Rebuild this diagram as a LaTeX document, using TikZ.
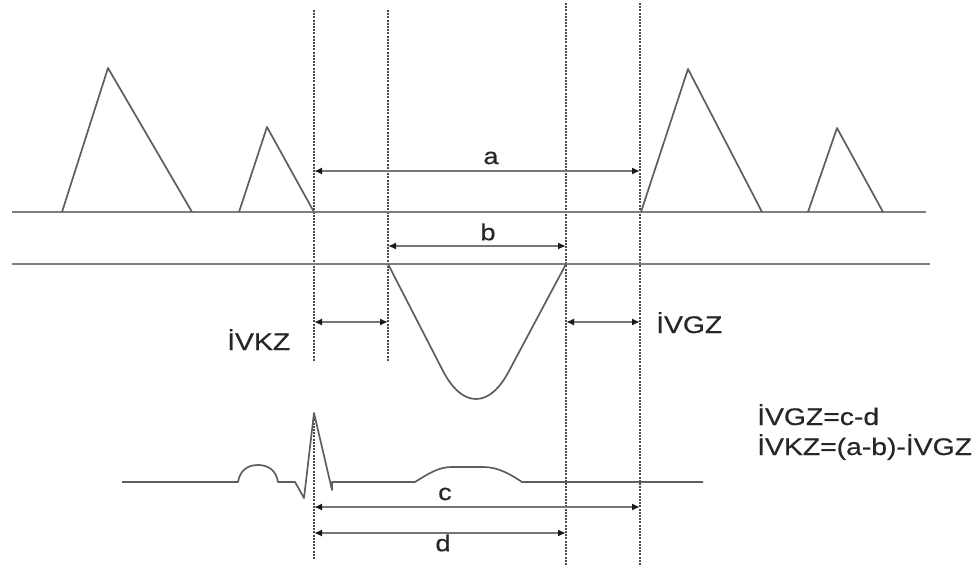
\documentclass[tikz,border=0pt]{standalone}
\usepackage{fontspec}
\setmainfont[FakeStretch=1.18,FakeBold=0.5]{Liberation Sans}
\usetikzlibrary{arrows.meta}
\definecolor{ln}{HTML}{5E5E5E}
\definecolor{tx}{HTML}{262626}
\tikzset{
  wave/.style={draw=ln,line width=1.7pt,line join=round},
  base/.style={draw=ln!80,line width=2pt},
  guide/.style={draw=black!70,line width=1.5pt,dash pattern=on 2pt off 1.2pt},
  dim/.style={draw=ln!85,line width=1.7pt,{Latex[length=8pt,width=7pt,black!90]}-{Latex[length=8pt,width=7pt,black!90]}},
  lab/.style={text=tx,inner sep=0pt,font=\fontsize{23}{26}\selectfont},
  big/.style={text=tx,inner sep=0pt,font=\fontsize{24}{28}\selectfont}
}
\begin{document}
\begin{tikzpicture}[x=1pt,y=-1pt]
\useasboundingbox (0,0) rectangle (977,567);
% guide end points
\coordinate (g1t) at (314,10); \coordinate (g1b) at (314,362);
\coordinate (g1c) at (314,413); \coordinate (g1e) at (314,559);
\coordinate (g2t) at (388,10); \coordinate (g2b) at (388,362);
\coordinate (g3t) at (566,3); \coordinate (g3b) at (566,565);
\coordinate (g4t) at (640,3); \coordinate (g4b) at (640,565);
\draw[guide] (g1t) -- (g1b);
\draw[guide] (g1c) -- (g1e);
\draw[guide] (g2t) -- (g2b);
\draw[guide] (g3t) -- (g3b);
\draw[guide] (g4t) -- (g4b);
% baselines
\coordinate (l1a) at (12,212); \coordinate (l1b) at (926,212);
\coordinate (l2a) at (12,264); \coordinate (l2b) at (930,264);
\draw[base] (l1a) -- (l1b);
\draw[base] (l2a) -- (l2b);
% triangles
\draw[wave] (62,212) -- (108,68) -- (192,212);
\draw[wave] (239,212) -- (267,127) -- (314,212);
\draw[wave] (641,212) -- (688,69) -- (762,212);
\draw[wave] (808,212) -- (837,128) -- (883,212);
% trough
\draw[wave] (388,264) -- (443,371) .. controls (452,388) and (463,399) .. (476,399)
  .. controls (489,399) and (500,388) .. (509,371) -- (566,264);
% ECG
\draw[wave] (122,482) -- (238,482) .. controls (240,470) and (248,465) .. (258,465)
  .. controls (268,465) and (276,470) .. (278,482) -- (295,482) -- (304,498)
  -- (314,413) -- (332,490) -- (332,482) -- (415,482)
  .. controls (428,474) and (438,467) .. (452,467) -- (483,467)
  .. controls (498,467) and (510,474) .. (522,482) -- (703,482);
% dimension arrows
\coordinate (a1) at (314,171); \coordinate (a2) at (640,171);
\coordinate (b1) at (388,246); \coordinate (b2) at (566,246);
\coordinate (k1) at (314,322); \coordinate (k2) at (388,322);
\coordinate (z1) at (566,322); \coordinate (z2) at (640,322);
\coordinate (c1) at (314,507); \coordinate (c2) at (640,507);
\coordinate (d1) at (314,533); \coordinate (d2) at (566,533);
\draw[dim] (a1) -- (a2);
\draw[dim] (b1) -- (b2);
\draw[dim] (k1) -- (k2);
\draw[dim] (z1) -- (z2);
\draw[dim] (c1) -- (c2);
\draw[dim] (d1) -- (d2);
% labels
\node[lab] (la) at (491,158) {a};
\node[lab] (lb) at (488,232) {b};
\node[lab] (lc) at (445,494) {c};
\node[lab] (ld) at (443,543) {d};
\node[big,anchor=base west] (ivkz) at (227,350) {İVKZ};
\node[big,anchor=base west] (ivgz) at (656,333) {İVGZ};
\node[big,anchor=base west] (f1) at (757,425) {İVGZ=c-d};
\node[big,anchor=base west] (f2) at (757,455) {İVKZ=(a-b)-İVGZ};
\end{tikzpicture}
\end{document}
